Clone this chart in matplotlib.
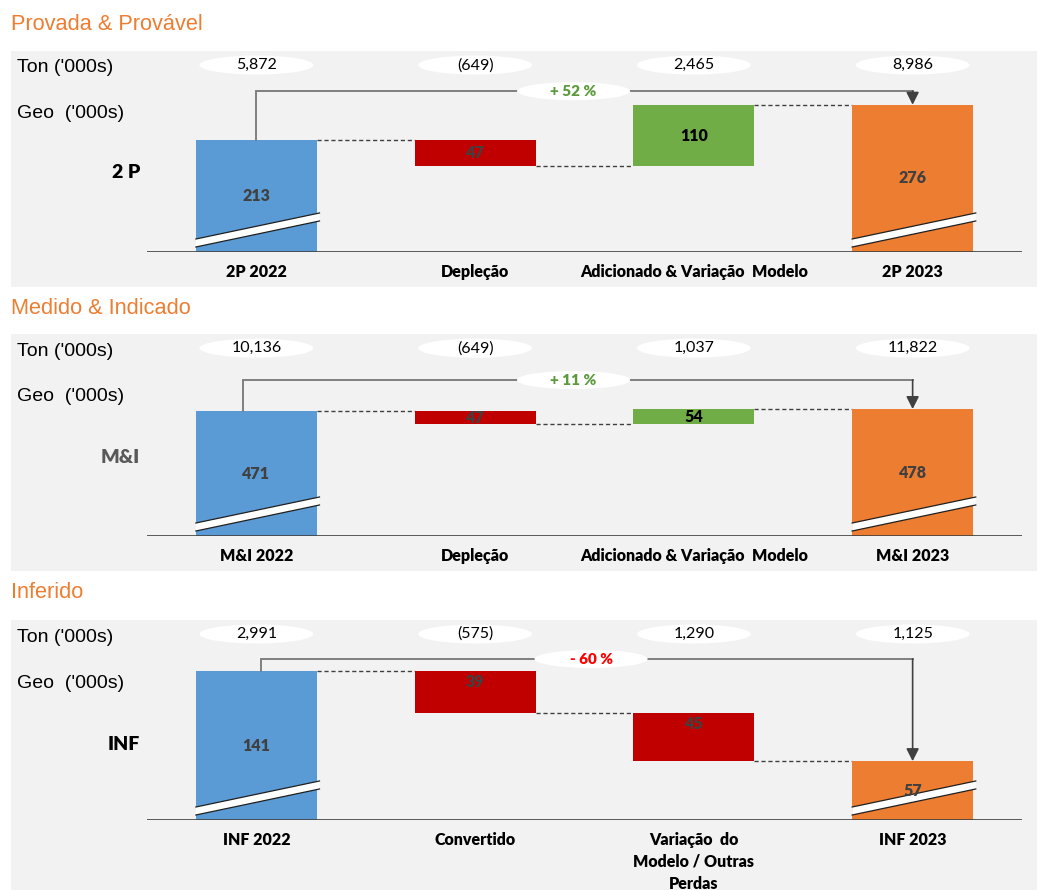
import matplotlib
matplotlib.use("Agg")
import matplotlib.pyplot as plt
from matplotlib.patches import Rectangle, Ellipse, Polygon
from matplotlib.transforms import blended_transform_factory

# ---------------- data ----------------
panel_titles = ["Provada & Provável", "Medido & Indicado", "Inferido"]
row_labels = ["2 P", "M&I", "INF"]
categories_2p = ["2P 2022", "Depleção", "Adicionado & Variação  Modelo", "2P 2023"]
categories_mi = ["M&I 2022", "Depleção", "Adicionado & Variação  Modelo", "M&I 2023"]
categories_inf = ["INF 2022", "Convertido", "Variação  do\nModelo / Outras\nPerdas", "INF 2023"]
geo_2p = [213, -47, 110, 276]
geo_mi = [471, -47, 54, 478]
geo_inf = [141, -39, -45, 57]
ton_2p = [5872, -649, 2465, 8986]
ton_mi = [10136, -649, 1037, 11822]
ton_inf = [2991, -575, 1290, 1125]
pct_labels = ["+ 52 %", "+ 11 %", "- 60 %"]

# ---------------- style / layout ----------------
W, H = 1038, 890
BLUE, RED, GREEN, ORANGE = "#5B9BD5", "#C00000", "#70AD47", "#ED7D31"
GRAY_BG = "#F2F2F2"
DARK = "#404040"
TITLE_C = "#ED7D31"
PCT_COLORS = ["#5B9B3C", "#5B9B3C", "#FF0000"]
ROW_COLORS = ["black", "#595959", "black"]
ARIAL = "Liberation Sans"
CAL = "Lato"

panels = [
    dict(cats=categories_2p, geo=geo_2p, ton=ton_2p, bg=(51, 287), base=252, top=51,
         ylim=(13, 372), title_y=25, ton_y=68, geo_y=114, row_y=173, br_frac=0.80,
         br_x0=0.0, pct_x=1.45),
    dict(cats=categories_mi, geo=geo_mi, ton=ton_mi, bg=(334, 571), base=536, top=334,
         ylim=(20, 749), title_y=309, ton_y=352, geo_y=397, row_y=458, br_frac=0.772,
         br_x0=-0.06, pct_x=1.45),
    dict(cats=categories_inf, geo=geo_inf, ton=ton_inf, bg=(620, 890), base=820, top=620,
         ylim=(2, 189), title_y=593, ton_y=638, geo_y=684, row_y=745, br_frac=0.805,
         br_x0=0.02, pct_x=1.53),
]

X_LEFT, X_RIGHT = 147, 1022
BAR_W = 0.553

fig = plt.figure(figsize=(W / 100, H / 100), dpi=100)
fig.patch.set_facecolor("white")


def fx(x):
    return x / W


def fy(y):
    return 1 - y / H


def fmt_ton(v):
    return f"({abs(v):,})" if v < 0 else f"{v:,}"


for k, p in enumerate(panels):
    # panel background
    y0, y1 = p["bg"]
    fig.add_artist(Rectangle((fx(11), fy(y1)), fx(1037) - fx(11), fy(y0) - fy(y1),
                             transform=fig.transFigure, facecolor=GRAY_BG,
                             edgecolor="none", zorder=0))
    # texts at figure level
    fig.text(fx(11), fy(p["title_y"]), panel_titles[k], color=TITLE_C, fontsize=15.7,
             family=ARIAL, va="center", ha="left")
    fig.text(fx(17), fy(p["ton_y"]), "Ton ('000s)", fontsize=14, family=ARIAL,
             va="center", ha="left")
    fig.text(fx(17), fy(p["geo_y"]), "Geo  ('000s)", fontsize=14, family=ARIAL,
             va="center", ha="left")
    fig.text(fx(140), fy(p["row_y"]), row_labels[k], fontsize=14, family=CAL,
             fontweight="heavy", color=ROW_COLORS[k], va="center", ha="right")

    ah = p["base"] - p["top"]
    ax = fig.add_axes([fx(X_LEFT), fy(p["base"]), fx(X_RIGHT) - fx(X_LEFT), ah / H])
    ax.set_xlim(-0.5, 3.5)
    b, t = p["ylim"]
    ax.set_ylim(b, t)
    ax.axis("off")
    ax.patch.set_alpha(0)
    pxu = ah / (t - b)  # pixels per unit
    blend = blended_transform_factory(ax.transData, ax.transAxes)

    geo = p["geo"]
    n = len(geo)
    xs = list(range(n))
    bottoms, heights, colors, tops = [], [], [], []
    running = 0
    for i, v in enumerate(geo):
        if i == 0 or i == n - 1:
            bottoms.append(0)
            heights.append(v)
            colors.append(BLUE if i == 0 else ORANGE)
            running = v
            tops.append(v)
        else:
            new = running + v
            bottoms.append(min(running, new))
            heights.append(abs(v))
            colors.append(GREEN if v > 0 else RED)
            tops.append(max(running, new))
            running = new
    ax.bar(xs, heights, bottom=bottoms, width=BAR_W, color=colors, zorder=2)
    ax.axhline(b, color=DARK, lw=1.2, zorder=3)

    # connectors
    levels = []
    running = 0
    for i, v in enumerate(geo):
        running = v if i == 0 else running + v if i < n - 1 else v
        levels.append(running)
    for i in range(n - 1):
        ax.plot([i + BAR_W / 2, i + 1 - BAR_W / 2], [levels[i], levels[i]],
                color=DARK, lw=1.0, ls=(0, (3, 2)), zorder=1)

    # value labels
    for i, v in enumerate(geo):
        if i == 0 or i == n - 1:
            yv = (b + v) / 2
            c = DARK
        elif v > 0:
            yv = bottoms[i] + heights[i] / 2
            c = "black"
        else:
            hpx = abs(v) * pxu
            if hpx < 30:
                yv = bottoms[i] + heights[i] / 2
            else:
                yv = tops[i] - 11 / pxu
            c = DARK
        ax.text(i, yv, str(abs(v)), ha="center", va="center", fontsize=11.5,
                family=CAL, fontweight="heavy", color=c, zorder=6)

    # break bands on total bars
    for i in (0, n - 1):
        xl, xr = i - BAR_W / 2, i + BAR_W / 2 + 0.012
        lo_l, hi_l, lo_r, hi_r = 5 / ah, 13 / ah, 31 / ah, 39 / ah
        ax.add_patch(Polygon([(xl, lo_l), (xr, lo_r), (xr, hi_r), (xl, hi_l)],
                             closed=True, transform=blend, facecolor="white",
                             edgecolor="none", zorder=4))
        ax.plot([xl, xr], [lo_l, lo_r], transform=blend, color="#202020", lw=0.9, zorder=5)
        ax.plot([xl, xr], [hi_l, hi_r], transform=blend, color="#202020", lw=0.9, zorder=5)

    # ton ellipses
    for i, v in enumerate(p["ton"]):
        ax.add_patch(Ellipse((i, 0.93), 0.52, 19 / ah, transform=blend,
                             facecolor="white", edgecolor="none", zorder=3,
                             clip_on=False))
        ax.text(i, 0.93, fmt_ton(v), transform=blend, ha="center", va="center",
                fontsize=11.5, family=CAL, color="black", zorder=4)

    # bracket with arrow
    ybr = b + p["br_frac"] * (t - b)
    x0 = p["br_x0"]
    ax.plot([x0, x0, n - 1], [levels[0], ybr, ybr], color="#7F7F7F", lw=1.4,
            zorder=3, solid_joinstyle="miter")
    ax.annotate("", xy=(n - 1, geo[-1]), xytext=(n - 1, ybr),
                arrowprops=dict(arrowstyle="-|>,head_length=0.75,head_width=0.38",
                                color=DARK, lw=1.2, shrinkA=0, shrinkB=0,
                                mutation_scale=10), zorder=4)
    ax.add_patch(Ellipse((p["pct_x"], ybr), 0.517, 18 / pxu, facecolor="white",
                         edgecolor="none", zorder=5))
    ax.text(p["pct_x"], ybr, pct_labels[k], ha="center", va="center", fontsize=11,
            family=CAL, fontweight="heavy", color=PCT_COLORS[k], zorder=6)

    # category labels
    for i, c in enumerate(p["cats"]):
        ax.annotate(c, xy=(i, 0), xycoords=("data", "axes fraction"),
                    xytext=(0, -12 * 0.72), textcoords="offset points",
                    ha="center", va="top", fontsize=11.5, family=CAL,
                    fontweight="heavy", color="black", linespacing=1.45,
                    annotation_clip=False)

fig.savefig("out.png", dpi=100, facecolor="white")
